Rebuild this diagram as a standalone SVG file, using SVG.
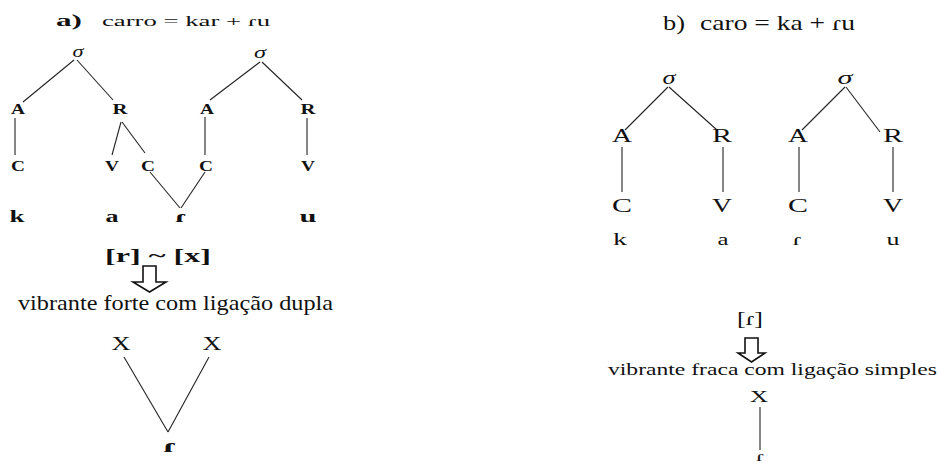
<svg xmlns="http://www.w3.org/2000/svg" width="939" height="463" viewBox="0 0 939 463">
<style>
text{font-family:"Liberation Serif","DejaVu Serif","Times New Roman",serif;fill:#111;}
.b{font-weight:bold;}
.m{text-anchor:middle;}
.s{font-style:italic;}
.n{font-size:14px;font-weight:bold;text-anchor:middle;}
line{stroke:#222;stroke-width:1.1;}
.arr{fill:#fff;stroke:#111;stroke-width:1.6;stroke-linejoin:miter;}
</style>
<rect width="939" height="463" fill="#fff"/>
<g id="connectors">
<line x1="74" y1="60" x2="23" y2="102"/>
<line x1="77" y1="60" x2="113" y2="100"/>
<line x1="260" y1="62" x2="210" y2="100"/>
<line x1="262" y1="62" x2="302" y2="100"/>
<line x1="15" y1="118" x2="15" y2="155"/>
<line x1="121" y1="122" x2="112" y2="155"/>
<line x1="122" y1="122" x2="145" y2="153"/>
<line x1="205" y1="117" x2="205" y2="155"/>
<line x1="307" y1="118" x2="307" y2="155"/>
<line x1="150" y1="172" x2="180" y2="208"/>
<line x1="205" y1="172" x2="181" y2="208"/>
<line x1="124" y1="357" x2="168" y2="432"/>
<line x1="209" y1="357" x2="168" y2="432"/>
<line x1="668" y1="87" x2="625" y2="130"/>
<line x1="669" y1="87" x2="717" y2="130"/>
<line x1="845" y1="87" x2="802" y2="130"/>
<line x1="846" y1="87" x2="880" y2="132"/>
<line x1="622" y1="147" x2="622" y2="192"/>
<line x1="723" y1="147" x2="723" y2="192"/>
<line x1="799" y1="147" x2="799" y2="192"/>
<line x1="893" y1="147" x2="893" y2="192"/>
<line x1="760" y1="407" x2="760" y2="450"/>
<path class="arr" d="M143,266 H156 V282 H166 L149.5,292 L133,282 H143 Z"/>
<path class="arr" d="M745,338 H758 V353 H765 L751.5,362 L738,353 H745 Z"/>
</g>
<g id="title-a">
<text x="56" y="26" font-size="16" class="b" textLength="26" lengthAdjust="spacingAndGlyphs">a)</text>
<text x="102" y="26" font-size="15" textLength="168" lengthAdjust="spacingAndGlyphs">carro = kar + ɾu</text>
</g>
<g id="a-sigma1"><text x="78" y="57" font-size="16" class="m s" textLength="11" lengthAdjust="spacingAndGlyphs">σ</text></g>
<g id="a-sigma2"><text x="260" y="58" font-size="16" class="m s" textLength="12" lengthAdjust="spacingAndGlyphs">σ</text></g>
<g id="a-A1"><text x="18" y="114" class="n" textLength="14" lengthAdjust="spacingAndGlyphs">A</text></g>
<g id="a-R1"><text x="120" y="114" class="n" textLength="15" lengthAdjust="spacingAndGlyphs">R</text></g>
<g id="a-A2"><text x="207" y="114" class="n" textLength="14" lengthAdjust="spacingAndGlyphs">A</text></g>
<g id="a-R2"><text x="308" y="114" class="n" textLength="15" lengthAdjust="spacingAndGlyphs">R</text></g>
<g id="a-C1"><text x="18" y="171" class="n" textLength="14" lengthAdjust="spacingAndGlyphs">C</text></g>
<g id="a-V1"><text x="112" y="171" class="n" textLength="14" lengthAdjust="spacingAndGlyphs">V</text></g>
<g id="a-C2"><text x="148" y="171" class="n" textLength="14" lengthAdjust="spacingAndGlyphs">C</text></g>
<g id="a-C3"><text x="206" y="171" class="n" textLength="14" lengthAdjust="spacingAndGlyphs">C</text></g>
<g id="a-V2"><text x="308" y="171" class="n" textLength="14" lengthAdjust="spacingAndGlyphs">V</text></g>
<g id="a-k"><text x="17" y="222" font-size="16" class="m b" textLength="15" lengthAdjust="spacingAndGlyphs">k</text></g>
<g id="a-a"><text x="112" y="222" font-size="16" class="m b" textLength="13" lengthAdjust="spacingAndGlyphs">a</text></g>
<g id="a-flap"><text x="181" y="222" font-size="16" class="m b" textLength="12" lengthAdjust="spacingAndGlyphs">ɾ</text></g>
<g id="a-u"><text x="308" y="222" font-size="16" class="m b" textLength="17" lengthAdjust="spacingAndGlyphs">u</text></g>
<g id="a-variants"><text x="105" y="262" font-size="19" class="b" textLength="106" lengthAdjust="spacingAndGlyphs">[r] ~ [x]</text></g>
<g id="a-label"><text x="18" y="310" font-size="21" textLength="315" lengthAdjust="spacingAndGlyphs">vibrante forte com ligação dupla</text></g>
<g id="a-X1"><text x="121" y="350" font-size="18" class="m" textLength="19" lengthAdjust="spacingAndGlyphs">X</text></g>
<g id="a-X2"><text x="212" y="350" font-size="18" class="m" textLength="19" lengthAdjust="spacingAndGlyphs">X</text></g>
<g id="a-flap2"><text x="170" y="452" font-size="18" class="m b" textLength="14" lengthAdjust="spacingAndGlyphs">ɾ</text></g>
<g id="title-b">
<text x="663" y="30" font-size="21" textLength="22" lengthAdjust="spacingAndGlyphs">b)</text>
<text x="700" y="30" font-size="21" textLength="155" lengthAdjust="spacingAndGlyphs">caro = ka + ɾu</text>
</g>
<g id="b-sigma1"><text x="669" y="84" font-size="19" class="m s" textLength="13" lengthAdjust="spacingAndGlyphs">σ</text></g>
<g id="b-sigma2"><text x="845" y="84" font-size="19" class="m s" textLength="15" lengthAdjust="spacingAndGlyphs">σ</text></g>
<g id="b-A1"><text x="622" y="142" font-size="18" class="m" textLength="20" lengthAdjust="spacingAndGlyphs">A</text></g>
<g id="b-R1"><text x="722" y="142" font-size="18" class="m" textLength="20" lengthAdjust="spacingAndGlyphs">R</text></g>
<g id="b-A2"><text x="798" y="142" font-size="18" class="m" textLength="20" lengthAdjust="spacingAndGlyphs">A</text></g>
<g id="b-R2"><text x="893" y="142" font-size="18" class="m" textLength="20" lengthAdjust="spacingAndGlyphs">R</text></g>
<g id="b-C1"><text x="622" y="212" font-size="18" class="m" textLength="20" lengthAdjust="spacingAndGlyphs">C</text></g>
<g id="b-V1"><text x="722" y="212" font-size="18" class="m" textLength="20" lengthAdjust="spacingAndGlyphs">V</text></g>
<g id="b-C2"><text x="798" y="212" font-size="18" class="m" textLength="20" lengthAdjust="spacingAndGlyphs">C</text></g>
<g id="b-V2"><text x="893" y="212" font-size="18" class="m" textLength="20" lengthAdjust="spacingAndGlyphs">V</text></g>
<g id="b-k"><text x="620" y="245" font-size="17" class="m" textLength="14" lengthAdjust="spacingAndGlyphs">k</text></g>
<g id="b-a"><text x="723" y="245" font-size="17" class="m" textLength="11" lengthAdjust="spacingAndGlyphs">a</text></g>
<g id="b-flap"><text x="797" y="245" font-size="17" class="m" textLength="9" lengthAdjust="spacingAndGlyphs">ɾ</text></g>
<g id="b-u"><text x="893" y="245" font-size="17" class="m" textLength="13" lengthAdjust="spacingAndGlyphs">u</text></g>
<g id="b-variant"><text x="750" y="325" font-size="19" class="m" textLength="26" lengthAdjust="spacingAndGlyphs">[ɾ]</text></g>
<g id="b-label"><text x="608" y="375" font-size="17" textLength="329" lengthAdjust="spacingAndGlyphs">vibrante fraca com ligação simples</text></g>
<g id="b-X"><text x="759" y="402" font-size="17" class="m" textLength="18" lengthAdjust="spacingAndGlyphs">X</text></g>
<g id="b-flap2"><text x="760" y="461" font-size="15" class="m" textLength="8" lengthAdjust="spacingAndGlyphs">ɾ</text></g>
</svg>
